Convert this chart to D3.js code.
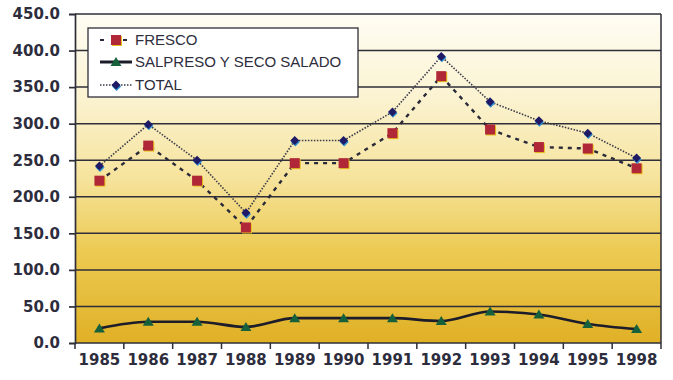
<!DOCTYPE html>
<html><head><meta charset="utf-8">
<script src="https://cdn.jsdelivr.net/npm/d3@7"></script>
<style>body{margin:0;background:#fff;}svg{display:block;}</style>
</head><body>
<svg id="c" width="673" height="380"></svg>
<script>
const years = ["1985","1986","1987","1988","1989","1990","1991","1992","1993","1994","1995","1998"];
const fresco = [222,270,222,158,246,246,287,365,292,268,266,239];
const salpreso = [20,29,29,22,34,34,34,30,43,39,26,19];
const total = [242,299,250,178,277,277,316,392,330,304,287,253];
const yTicks = [0,50,100,150,200,250,300,350,400,450];
const seriesNames = ["FRESCO","SALPRESO Y SECO SALADO","TOTAL"];

const svg = d3.select("#c");
const L=75, R=661, T=14, B=343;
const x = d3.scaleBand().domain(years).range([L,R]);
const y = d3.scaleLinear().domain([0,450]).range([B,T]);
const cx = d => x(d)+x.bandwidth()/2;

const defs = svg.append("defs");
const g = defs.append("linearGradient").attr("id","bg").attr("x1",0).attr("y1",0).attr("x2",0).attr("y2",1);
[[0,"#fffdf4"],[0.25,"#fbf3d2"],[0.5,"#f6e39c"],[0.72,"#ecca52"],[1,"#e0b026"]].forEach(s=>g.append("stop").attr("offset",s[0]).attr("stop-color",s[1]));

svg.append("rect").attr("x",L).attr("y",T).attr("width",R-L).attr("height",B-T).attr("fill","url(#bg)");

// gridlines
svg.append("g").selectAll("line").data(yTicks.filter(v=>v>0)).join("line")
  .attr("x1",L).attr("x2",R).attr("y1",d=>y(d)).attr("y2",d=>y(d))
  .attr("stroke","#2e2e38").attr("stroke-width",1.5);
svg.append("line").attr("x1",R).attr("x2",R).attr("y1",T).attr("y2",B).attr("stroke","#2e2e38").attr("stroke-width",1.5);

// axes
const yAxis = svg.append("g").attr("transform",`translate(${L},0)`)
  .call(d3.axisLeft(y).tickValues(yTicks).tickFormat(d3.format(".1f")).tickSize(6).tickPadding(9));
const xAxis = svg.append("g").attr("transform",`translate(0,${B})`)
  .call(d3.axisBottom(x).tickSize(0).tickPadding(11));
svg.append("g").selectAll("line").data(years.concat(["end"])).join("line")
  .attr("x1",(d,i)=>L+i*x.bandwidth()).attr("x2",(d,i)=>L+i*x.bandwidth())
  .attr("y1",B).attr("y2",B+6).attr("stroke","#2e2e38").attr("stroke-width",1.5);
[yAxis,xAxis].forEach(a=>{
  a.selectAll("path,line").attr("stroke","#2e2e38").attr("stroke-width",1.7);
  a.selectAll("text").attr("fill","#2d2d3d").style("font-family","DejaVu Sans, sans-serif")
   .style("font-size","15px").style("font-weight","bold");
});
xAxis.select("path").attr("d",`M${L},0H${R}`);

// lines
const lineS = d3.line().x((d,i)=>cx(years[i])).y(d=>y(d));
const curveS = d3.line().x((d,i)=>cx(years[i])).y(d=>y(d)).curve(d3.curveMonotoneX);

svg.append("path").datum(total).attr("d",lineS).attr("fill","none")
  .attr("stroke","#3a3a48").attr("stroke-width",1.6).attr("stroke-dasharray","1.5,1.5");
svg.append("path").datum(fresco).attr("d",lineS).attr("fill","none")
  .attr("stroke","#2a2a38").attr("stroke-width",2.4).attr("stroke-dasharray","4,5");
svg.append("path").datum(salpreso).attr("d",curveS).attr("fill","none")
  .attr("stroke","#1c1c2a").attr("stroke-width",2.6);

// markers
function square(sel, px, py){
  sel.append("rect").attr("x",px-4).attr("y",py-4).attr("width",10).attr("height",10).attr("fill","#e8c21c");
  sel.append("rect").attr("x",px-5).attr("y",py-5).attr("width",10).attr("height",10).attr("fill","#b02838");
}
function diamond(sel, px, py){
  const d = `M${px},${py-4.5}L${px+4.5},${py}L${px},${py+4.5}L${px-4.5},${py}Z`;
  sel.append("path").attr("d",d).attr("fill","#2f8fd0").attr("transform","translate(0.6,1.4)");
  sel.append("path").attr("d",d).attr("fill","#1e1a66");
}
function tri(sel, px, py){
  sel.append("path").attr("d",`M${px},${py-5}L${px+5.5},${py+4}L${px-5.5},${py+4}Z`).attr("fill","#17603c");
}
const mk = svg.append("g");
fresco.forEach((v,i)=>square(mk, cx(years[i]), y(v)));
total.forEach((v,i)=>diamond(mk, cx(years[i]), y(v)));
salpreso.forEach((v,i)=>tri(mk, cx(years[i]), y(v)));

// legend
const lg = svg.append("g");
lg.append("rect").attr("x",88).attr("y",28).attr("width",270).attr("height",69)
  .attr("fill","#fff").attr("stroke","#2e2e38").attr("stroke-width",1.3);
const ly = [40,62,85];
lg.append("line").attr("x1",100).attr("x2",130).attr("y1",ly[0]).attr("y2",ly[0])
  .attr("stroke","#2a2a38").attr("stroke-width",2.2).attr("stroke-dasharray","4,19");
square(lg,116,ly[0]);
lg.append("line").attr("x1",100).attr("x2",132).attr("y1",ly[1]).attr("y2",ly[1])
  .attr("stroke","#1c1c2a").attr("stroke-width",3);
tri(lg,116,ly[1]);
lg.append("line").attr("x1",100).attr("x2",132).attr("y1",ly[2]).attr("y2",ly[2])
  .attr("stroke","#3a3a48").attr("stroke-width",1.6).attr("stroke-dasharray","1.5,1.5");
diamond(lg,116,ly[2]);
lg.selectAll("text.l").data(seriesNames).join("text").attr("class","l")
  .attr("x",135).attr("y",(d,i)=>ly[i]+5).text(d=>d)
  .attr("fill","#2d2d3d").style("font-family","Liberation Sans, Arial, sans-serif").style("font-size","15px");
</script>
</body></html>
